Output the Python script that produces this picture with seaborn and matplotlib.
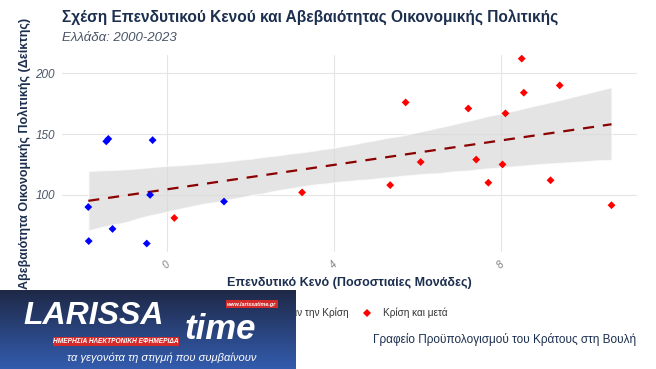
import numpy as np
import pandas as pd
import matplotlib
matplotlib.use("Agg")
import matplotlib.pyplot as plt
import seaborn as sns
from matplotlib.patches import Rectangle

# investment gap (pp) and policy uncertainty index, Greece 2000-2023
gap_before = [-1.88, -1.87, -1.45, -1.40, -1.30, -0.48, -0.40, -0.34, 1.37]
epu_before = [90, 62, 144, 146, 72, 60, 100, 145, 94.5]
gap_after = [0.18, 3.24, 5.35, 5.72, 6.08, 7.22, 7.41, 7.70, 8.04, 8.11, 8.50, 8.55, 9.19, 9.41, 10.65]
epu_after = [81, 102, 108, 176, 127, 171, 129, 110, 125, 167, 212, 184, 112, 190, 91.5]
periods = ["Πριν την Κρίση", "Κρίση και μετά"]
x_ticks = [0, 4, 8]
y_ticks = [100, 150, 200]

df = pd.DataFrame({
    "gap": gap_before + gap_after,
    "epu": epu_before + epu_after,
    "period": [periods[0]] * len(gap_before) + [periods[1]] * len(gap_after),
})

navy = "#1c2f4f"
sns.set_theme(style="whitegrid")
plt.rcParams["font.family"] = ["Liberation Sans", "DejaVu Sans"]

fig = plt.figure(figsize=(6.56, 3.69), dpi=100)
ax = fig.add_axes([0.0945, 0.317, 0.8765, 0.534])

sns.regplot(data=df, x="gap", y="epu", ax=ax, scatter=False, ci=95, seed=3,
            color="#8b0000", line_kws={"ls": (0, (5, 4)), "lw": 1.6})
for coll in ax.collections:
    coll.set_facecolor("#d9d9d9")
    coll.set_alpha(0.7)
sns.scatterplot(data=df, x="gap", y="epu", hue="period", hue_order=periods,
                palette=["#0000ff", "#ff0000"], marker="D", s=16, linewidth=0,
                ax=ax, zorder=3)

ax.set_xlim(-2.51, 11.26)
ax.set_ylim(53, 215)
ax.set_xticks(x_ticks)
ax.set_yticks(y_ticks)
ax.set_xticklabels([str(t) for t in x_ticks], rotation=45, fontsize=7.5,
                   style="italic", color="#7f7f7f")
ax.set_yticklabels([str(t) for t in y_ticks], fontsize=8.5, style="italic",
                   color="#4a5568")
ax.tick_params(axis="both", length=3, width=0.8, color="#333333", pad=2)
ax.grid(color="#e5e5e5", lw=0.8)
ax.set_facecolor("white")
for s in ax.spines.values():
    s.set_visible(False)

ax.set_xlabel("Επενδυτικό Κενό (Ποσοστιαίες Μονάδες)", fontsize=9,
              fontweight="bold", color=navy, labelpad=5)
ax.set_ylabel("Αβεβαιότητα Οικονομικής Πολιτικής (Δείκτης)", fontsize=9,
              fontweight="bold", color=navy, labelpad=3)

fig.text(0.0945, 0.955, "Σχέση Επενδυτικού Κενού και Αβεβαιότητας Οικονομικής Πολιτικής",
         fontsize=11.2, fontweight="bold", color=navy, va="center")
fig.text(0.0945, 0.898, "Ελλάδα: 2000-2023", fontsize=9.5, style="italic",
         color="#4a5568", va="center")

sns.move_legend(ax, "center", bbox_to_anchor=(0.536, 0.152),
                bbox_transform=fig.transFigure, ncol=2, frameon=False,
                title=None, fontsize=7.2, handletextpad=0.6, columnspacing=0.8,
                markerscale=0.9)
for t in ax.get_legend().get_texts():
    t.set_color("#333333")

fig.text(0.970, 0.079, "Γραφείο Προϋπολογισμού του Κράτους στη Βουλή",
         fontsize=8.5, color=navy, ha="right", va="center")

# watermark banner at the bottom-left
lax = fig.add_axes([0, 0, 0.45, 0.214], zorder=10)
top = np.array([0.12, 0.16, 0.28])
bot = np.array([0.20, 0.36, 0.68])
t = np.linspace(0, 1, 64)[:, None, None]
lax.imshow(top * (1 - t) + bot * t, aspect="auto", extent=(0, 1, 0, 1))
lax.set_xlim(0, 1)
lax.set_ylim(0, 1)
lax.axis("off")
lax.text(0.08, 0.67, "LARISSA", fontsize=23, fontweight="bold", style="italic",
         color="white", va="center", ha="left")
lax.text(0.625, 0.38, "time", fontsize=25, fontweight="bold", style="italic",
         color="white", va="baseline", ha="left")
lax.add_patch(Rectangle((0.765, 0.77), 0.176, 0.1, facecolor="#d42a2a",
                        edgecolor="none"))
lax.text(0.853, 0.82, "www.larissatime.gr", fontsize=4, fontweight="bold",
         style="italic", color="white", ha="center", va="center")
lax.add_patch(Rectangle((0.18, 0.29), 0.425, 0.115, facecolor="#d42a2a",
                        edgecolor="none"))
lax.text(0.392, 0.347, "ΗΜΕΡΗΣΙΑ ΗΛΕΚΤΡΟΝΙΚΗ ΕΦΗΜΕΡΙΔΑ", fontsize=4.8,
         fontweight="bold", style="italic", color="white", ha="center",
         va="center")
lax.text(0.547, 0.14, "τα γεγονότα τη στιγμή που συμβαίνουν", fontsize=8,
         style="italic", color="white", ha="center", va="center")

fig.savefig("out.png", dpi=100)
